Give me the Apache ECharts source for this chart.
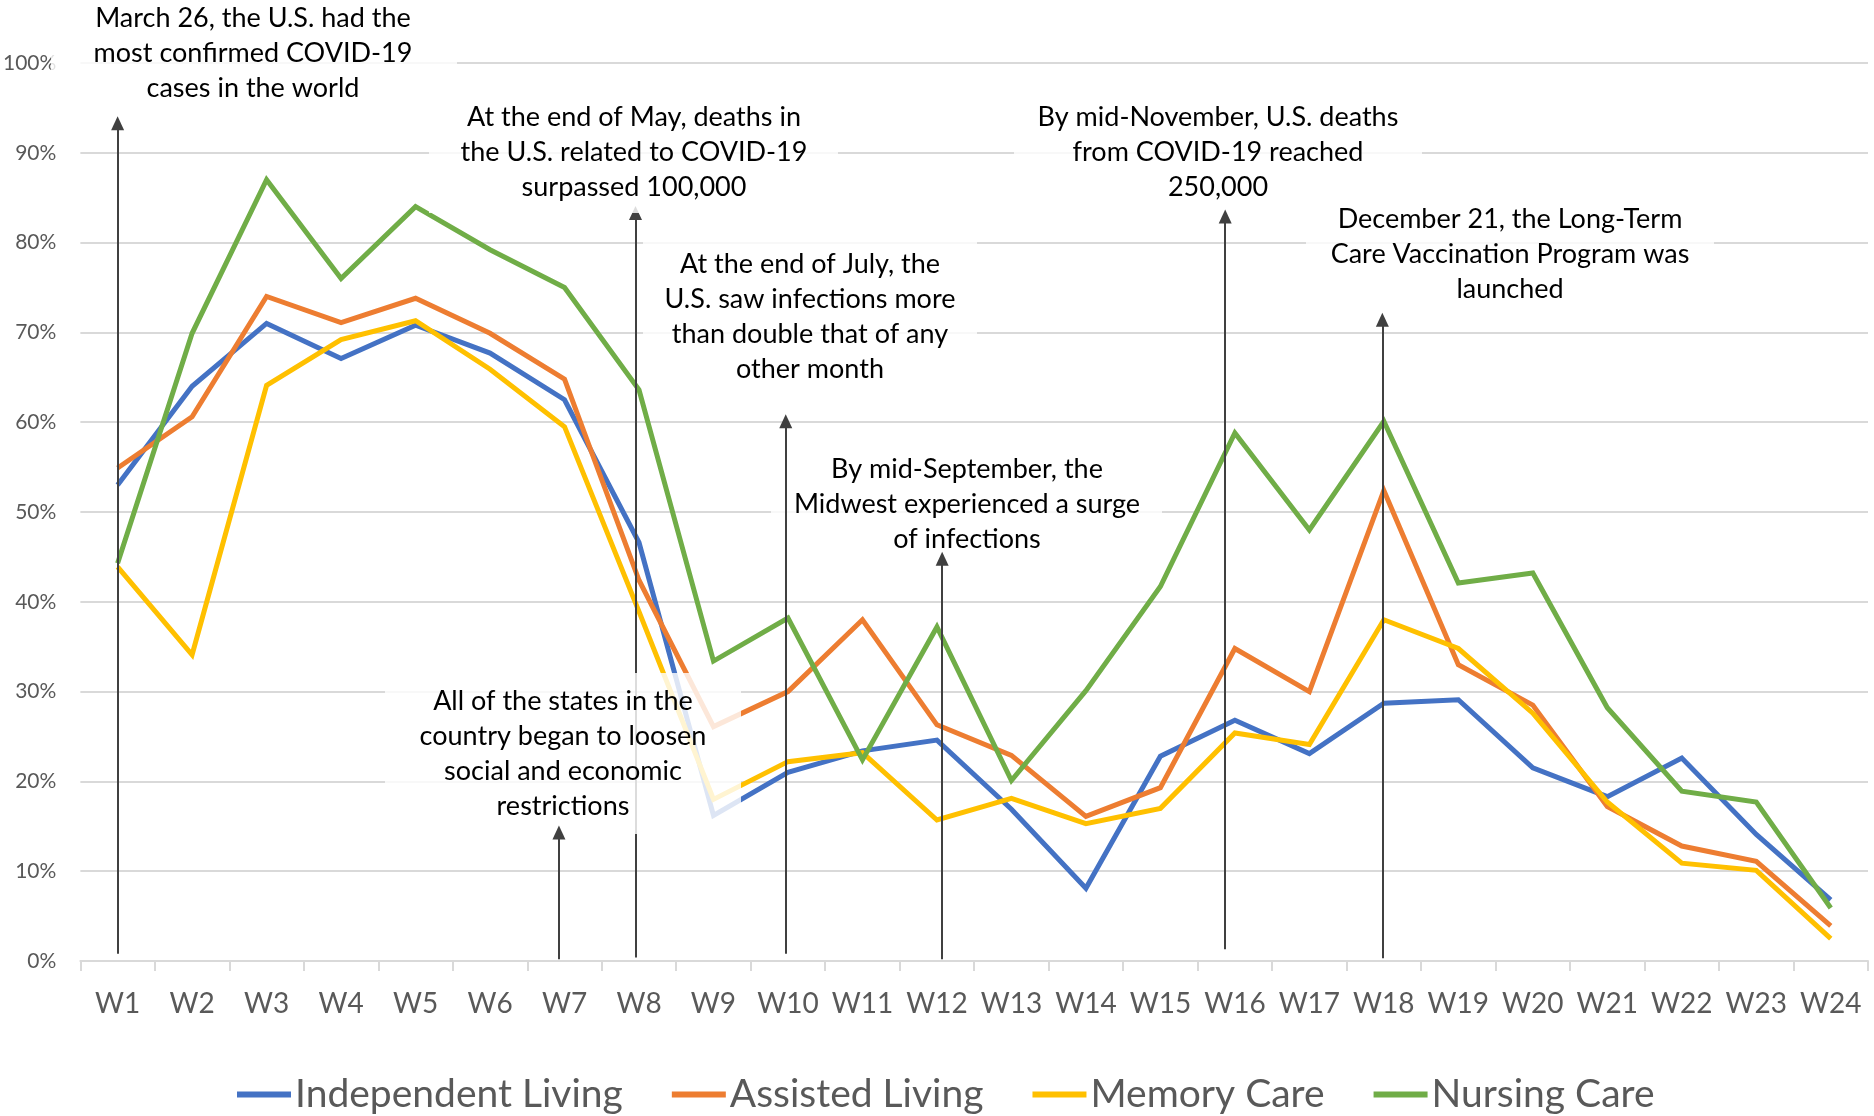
<!DOCTYPE html>
<html><head><meta charset="utf-8">
<script src="https://cdn.jsdelivr.net/npm/echarts@6/dist/echarts.min.js"></script>
<style>html,body{margin:0;padding:0;background:#fff;} #c{width:1874px;height:1116px;}</style>
</head><body><div id="c"></div>
<script>
const weeks = ['W1','W2','W3','W4','W5','W6','W7','W8','W9','W10','W11','W12','W13','W14','W15','W16','W17','W18','W19','W20','W21','W22','W23','W24'];
const independentLiving = [53.0, 64.0, 71.0, 67.1, 70.8, 67.7, 62.5, 46.6, 16.2, 21.0, 23.4, 24.6, 16.9, 8.1, 22.8, 26.8, 23.1, 28.7, 29.1, 21.5, 18.3, 22.6, 14.1, 6.8];
const assistedLiving = [54.9, 60.6, 74.0, 71.1, 73.8, 69.9, 64.8, 42.4, 26.1, 30.0, 38.0, 26.3, 22.9, 16.1, 19.3, 34.8, 30.0, 52.4, 33.0, 28.5, 17.2, 12.8, 11.1, 3.9];
const memoryCare = [43.9, 34.1, 64.1, 69.2, 71.3, 65.9, 59.5, 38.9, 18.0, 22.2, 23.2, 15.7, 18.1, 15.3, 17.0, 25.4, 24.1, 38.0, 34.8, 27.6, 17.7, 10.9, 10.1, 2.5];
const nursingCare = [44.3, 69.9, 87.0, 76.0, 84.0, 79.2, 75.0, 63.6, 33.4, 38.2, 22.4, 37.2, 20.1, 30.1, 41.7, 58.8, 48.0, 60.1, 42.1, 43.2, 28.2, 18.9, 17.7, 5.9];
const seriesNames = ['Independent Living','Assisted Living','Memory Care','Nursing Care'];
const seriesColors = ['#4472C4','#ED7D31','#FFC000','#70AD47'];

// annotation texts
const notes = [
  'March 26, the U.S. had the\nmost confirmed COVID-19\ncases in the world',
  'All of the states in the\ncountry began to loosen\nsocial and economic\nrestrictions',
  'At the end of May, deaths in\nthe U.S. related to COVID-19\nsurpassed 100,000',
  'At the end of July, the\nU.S. saw infections more\nthan double that of any\nother month',
  'By mid-September, the\nMidwest experienced a surge\nof infections',
  'By mid-November, U.S. deaths\nfrom COVID-19 reached\n250,000',
  'December 21, the Long-Term\nCare Vaccination Program was\nlaunched'
];
// arrow anchors: [category position, bottom %, tip %]
const arrowX = [0, 5.925, 6.953, 8.97, 11.07, 14.87, 16.98];
const arrowFrom = [0.8, 0.2, 0.4, 0.8, 0.2, 1.3, 0.3];
const arrowTo = [93.3, 14.3, 83.3, 60.1, 44.8, 82.9, 71.4];
// arrows hidden behind a text box (1) or drawn over the boxes (0)
const arrowBehind = [0, 0, 1, 0, 0, 0, 0];

// layout of annotation boxes (pixels): [left, top, right, bottom, textCenterX, textTop]
const boxLayout = [
  [51, 0, 457, 112, 253, 1],
  [385, 673, 741, 834, 563, 684],
  [429, 86, 838, 213, 634, 100],
  [643, 222, 977, 392, 810, 247],
  [771, 442, 1162, 554, 967, 452],
  [1014, 86, 1422, 212, 1218, 100],
  [1306, 190, 1714, 312, 1510, 202]
];

const FONT = 'Lato, "Open Sans", sans-serif';
const chart = echarts.init(document.getElementById('c'), null, {renderer:'canvas'});

const lineSeries = [independentLiving, assistedLiving, memoryCare, nursingCare].map((d, i) => ({
  name: seriesNames[i], type: 'line', data: d, symbol: 'none', smooth: false,
  lineStyle: {width: 5, color: seriesColors[i], join: 'miter'}, itemStyle: {color: seriesColors[i]}, z: 2 + i * 0.01
}));

function arrowSeries(behind, z) {
  const data = [];
  arrowX.forEach((x, i) => {
    if (arrowBehind[i] !== behind) return;
    data.push([
      {coord: [x, arrowFrom[i]], symbol: 'none'},
      {coord: [x, arrowTo[i]], symbol: 'triangle', symbolSize: [13, 14]}
    ]);
  });
  return {
    name: 'arrows' + behind, type: 'line', xAxisIndex: 1, data: [], z: z, symbol: 'none',
    markLine: {silent: true, animation: false, z: z, symbol: ['none', 'triangle'],
      lineStyle: {color: '#404040', width: 2, type: 'solid'}, label: {show: false},
      emphasis: {disabled: true}, data: data}
  };
}

const graphics = [];
boxLayout.forEach((b, i) => {
  graphics.push({type: 'rect', z: 100, silent: true,
    shape: {x: b[0], y: b[1], width: b[2] - b[0], height: b[3] - b[1]},
    style: {fill: 'rgba(255,255,255,0.82)'}});
  graphics.push({type: 'text', z: 101, silent: true,
    style: {text: notes[i], x: b[4], y: b[5], align: 'center', verticalAlign: 'top',
      font: '27px ' + FONT, lineHeight: 35, fill: '#000000'}});
});

chart.setOption({
  animation: false,
  backgroundColor: '#ffffff',
  grid: {left: 79, right: 6, top: 63, bottom: 155, containLabel: false},
  legend: {
    data: seriesNames, left: 232, top: 1070, icon: 'rect', itemWidth: 54, itemHeight: 6, itemGap: 49,
    textStyle: {fontFamily: FONT, fontSize: 39, color: '#595959', padding: [0,0,0,-1]}
  },
  xAxis: [
    {type: 'category', data: weeks, boundaryGap: true,
      axisLine: {lineStyle: {color: '#D9D9D9', width: 2}},
      axisTick: {show: true, length: 10, lineStyle: {color: '#D9D9D9', width: 2}},
      axisLabel: {interval: 0, color: '#595959', fontFamily: FONT, fontSize: 28, margin: 29}},
    {type: 'value', min: -0.5, max: 23.5, show: false}
  ],
  yAxis: {type: 'value', min: 0, max: 100, interval: 10,
    axisLabel: {formatter: '{value}%', color: '#595959', fontFamily: FONT, fontSize: 21, margin: 24},
    axisLine: {show: false}, axisTick: {show: false},
    splitLine: {lineStyle: {color: '#D9D9D9', width: 2}}},
  series: lineSeries.concat([arrowSeries(1, 5), arrowSeries(0, 200)]),
  graphic: graphics
});
</script></body></html>
